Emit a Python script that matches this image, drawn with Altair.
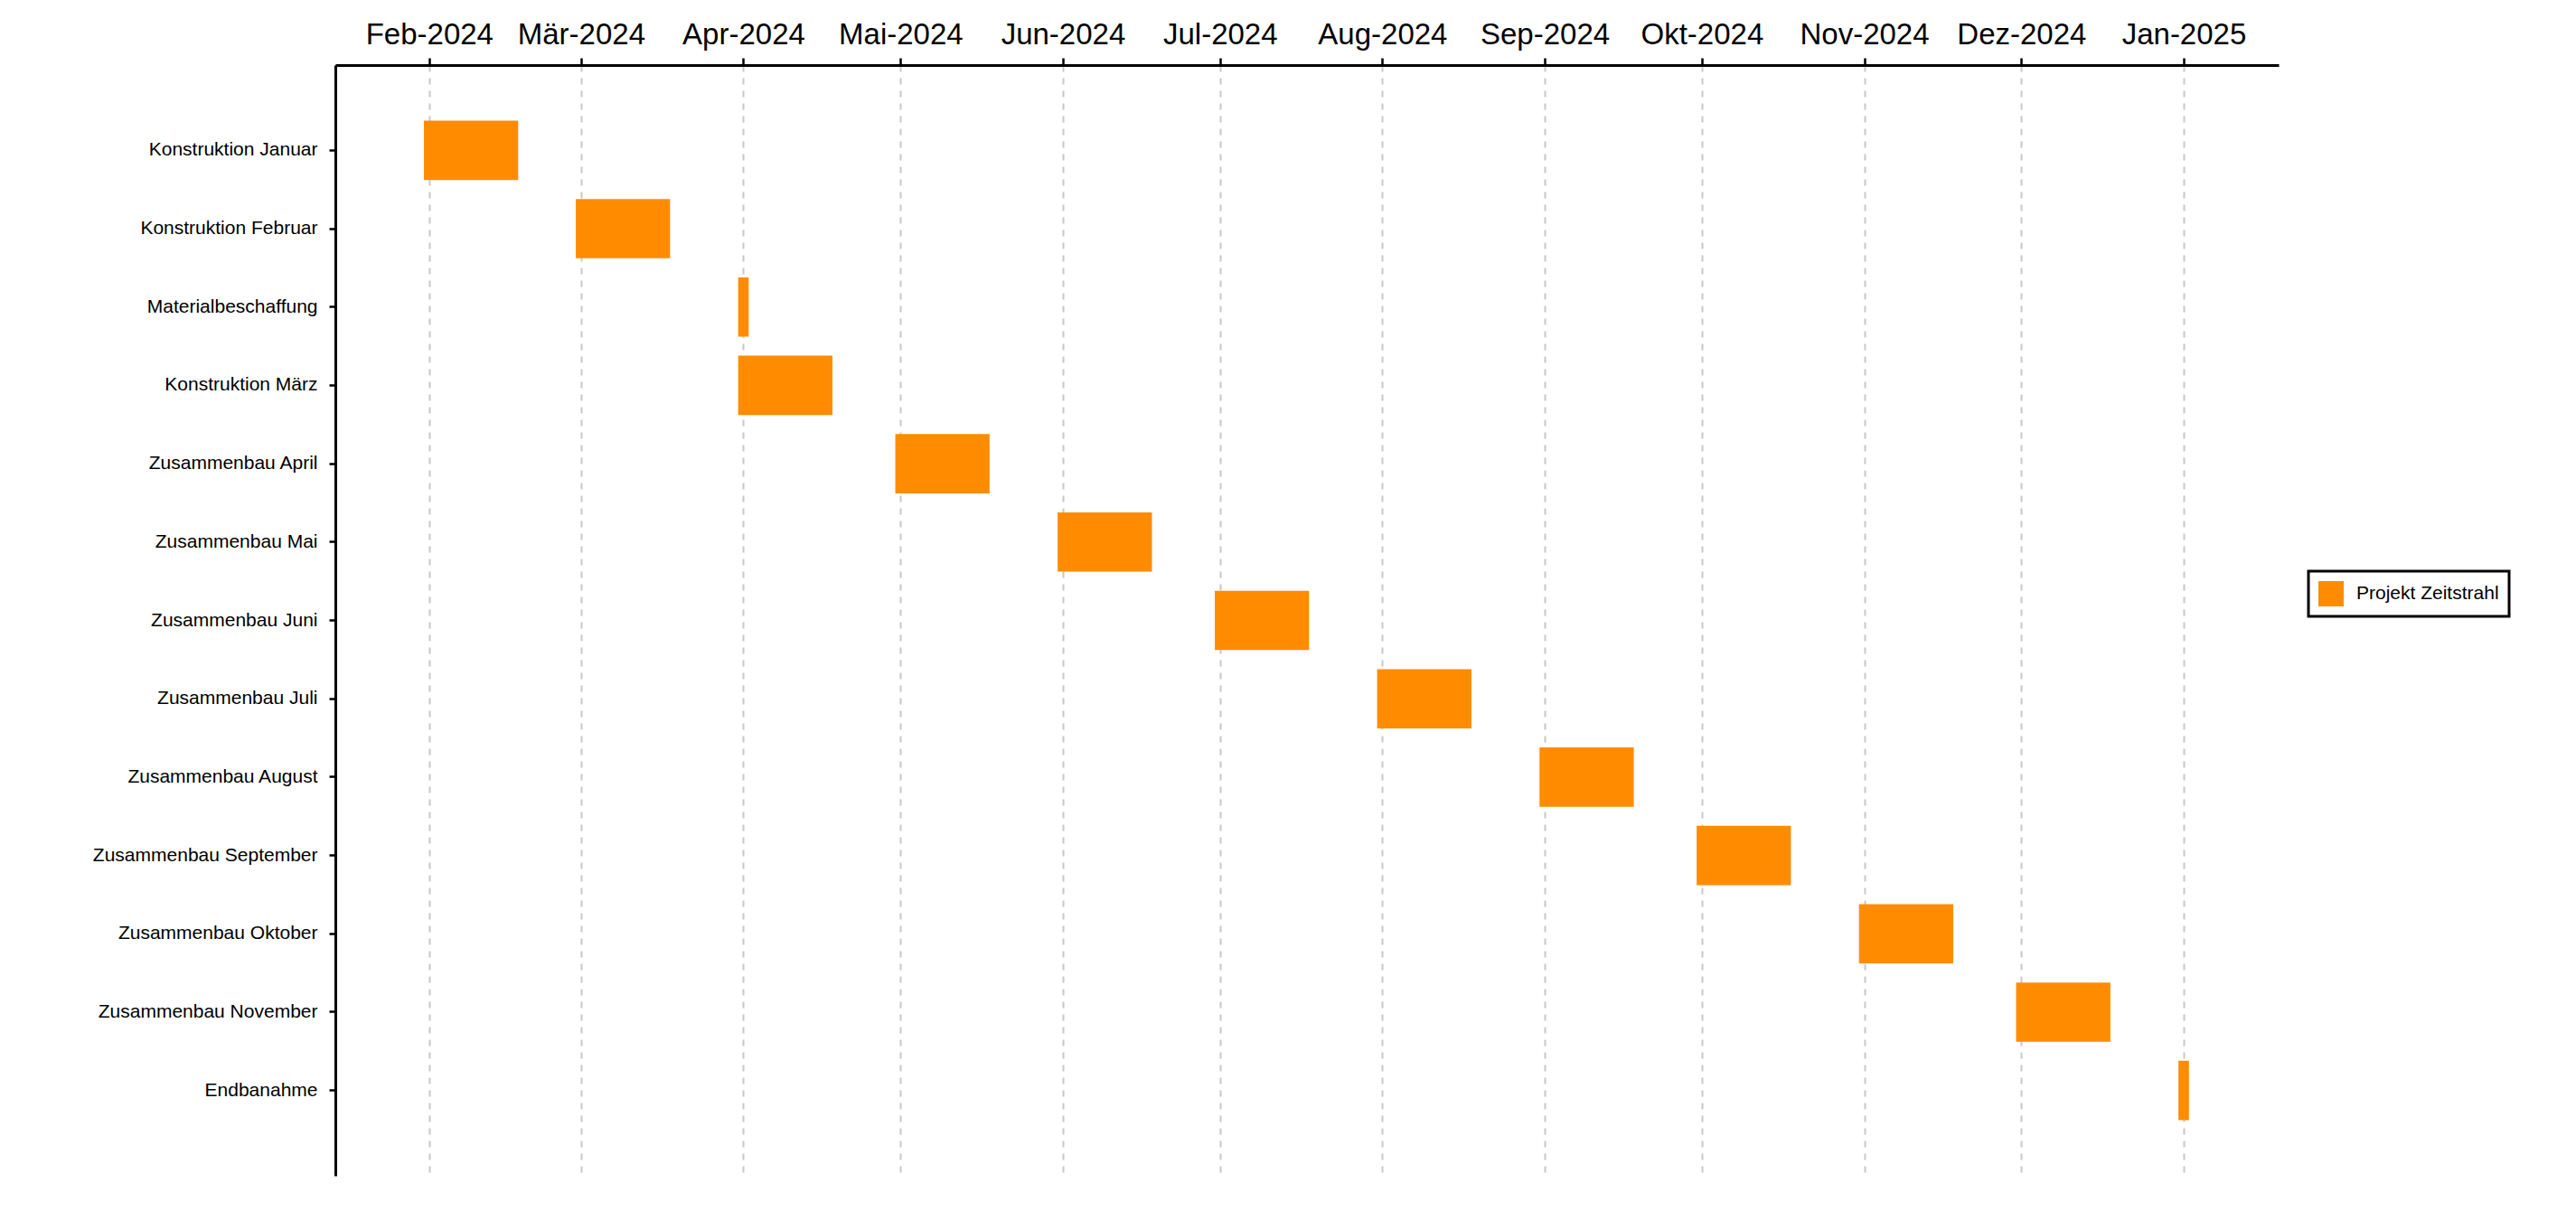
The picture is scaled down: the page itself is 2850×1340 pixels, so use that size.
import altair as alt
import pandas as pd

# --- data -------------------------------------------------------------
tasks = [
    "Konstruktion Januar",
    "Konstruktion Februar",
    "Materialbeschaffung",
    "Konstruktion März",
    "Zusammenbau April",
    "Zusammenbau Mai",
    "Zusammenbau Juni",
    "Zusammenbau Juli",
    "Zusammenbau August",
    "Zusammenbau September",
    "Zusammenbau Oktober",
    "Zusammenbau November",
    "Endbanahme",
]
starts = [
    "2024-01-31", "2024-02-29", "2024-03-31", "2024-03-31", "2024-04-30",
    "2024-05-31", "2024-06-30", "2024-07-31", "2024-08-31", "2024-09-30",
    "2024-10-31", "2024-11-30", "2024-12-31",
]
ends = [
    "2024-02-18", "2024-03-18", "2024-04-02", "2024-04-18", "2024-05-18",
    "2024-06-18", "2024-07-18", "2024-08-18", "2024-09-18", "2024-10-18",
    "2024-11-18", "2024-12-18", "2025-01-02",
]
series_name = "Projekt Zeitstrahl"
tick_dates = [
    "2024-02-01", "2024-03-01", "2024-04-01", "2024-05-01", "2024-06-01",
    "2024-07-01", "2024-08-01", "2024-09-01", "2024-10-01", "2024-11-01",
    "2024-12-01", "2025-01-01",
]
months_de = ["Jan", "Feb", "Mär", "Apr", "Mai", "Jun",
             "Jul", "Aug", "Sep", "Okt", "Nov", "Dez"]

# --- build ------------------------------------------------------------
df = pd.DataFrame({
    "task": tasks,
    "start": [s + "T00:00:00" for s in starts],
    "end": [e + "T00:00:00" for e in ends],
    "series": [series_name] * len(tasks),
})


def to_dt(s):
    y, m, d = (int(p) for p in s.split("-"))
    return alt.DateTime(year=y, month=m, date=d)


tick_values = [to_dt(t) for t in tick_dates]
month_arr = "[" + ",".join("'" + m + "'" for m in months_de) + "]"
label_expr = month_arr + "[month(datum.value)] + '-' + year(datum.value)"

FONT = "Liberation Sans"

chart = alt.Chart(df).mark_bar(color="#FF8C00", strokeWidth=0).encode(
    x=alt.X(
        "start:T",
        scale=alt.Scale(domain=[
            alt.DateTime(year=2024, month=1, date=14, hours=2),
            alt.DateTime(year=2025, month=1, date=19, hours=3),
        ]),
        axis=alt.Axis(
            orient="top",
            title=None,
            values=tick_values,
            labelExpr=label_expr,
            labelFont=FONT,
            labelFontSize=33,
            labelColor="black",
            labelPadding=9,
            labelFlush=False,
            labelOverlap=False,
            labelLimit=0,
            tickColor="black",
            tickWidth=2.5,
            tickSize=8,
            domainColor="black",
            domainWidth=3,
            grid=True,
            gridColor="#c8c8c8",
            gridWidth=2,
            gridDash=[7, 7],
        ),
    ),
    x2="end:T",
    y=alt.Y(
        "task:N",
        sort=tasks,
        scale=alt.Scale(paddingInner=0.243, paddingOuter=0.71),
        axis=alt.Axis(
            title=None,
            labelFont=FONT,
            labelFontSize=21,
            labelColor="black",
            labelPadding=13,
            labelLimit=0,
            tickColor="black",
            tickWidth=2.5,
            tickSize=7,
            domainColor="black",
            domainWidth=3,
            grid=False,
        ),
    ),
    color=alt.Color(
        "series:N",
        title=None,
        scale=alt.Scale(domain=[series_name], range=["#FF8C00"]),
        legend=alt.Legend(
            orient="none",
            legendX=2183,
            legendY=560,
            symbolType="square",
            symbolSize=784,
            symbolStrokeWidth=0,
            symbolOpacity=1,
            labelFont=FONT,
            labelFontSize=21,
            labelColor="black",
            labelOffset=14,
            labelLimit=0,
            padding=11,
            strokeColor="black",
            fillColor="white",
        ),
    ),
).properties(
    width=2150,
    height=1229,
    background="white",
    autosize=alt.AutoSizeParams(type="none"),
    padding={"left": 363, "top": 64, "right": 300, "bottom": 20},
).configure_view(
    strokeWidth=0,
    stroke="transparent",
).configure_legend(
    strokeColor="black",
    strokeWidth=3,
)

chart.save("out.html", embed_options={"renderer": "svg", "actions": False})
